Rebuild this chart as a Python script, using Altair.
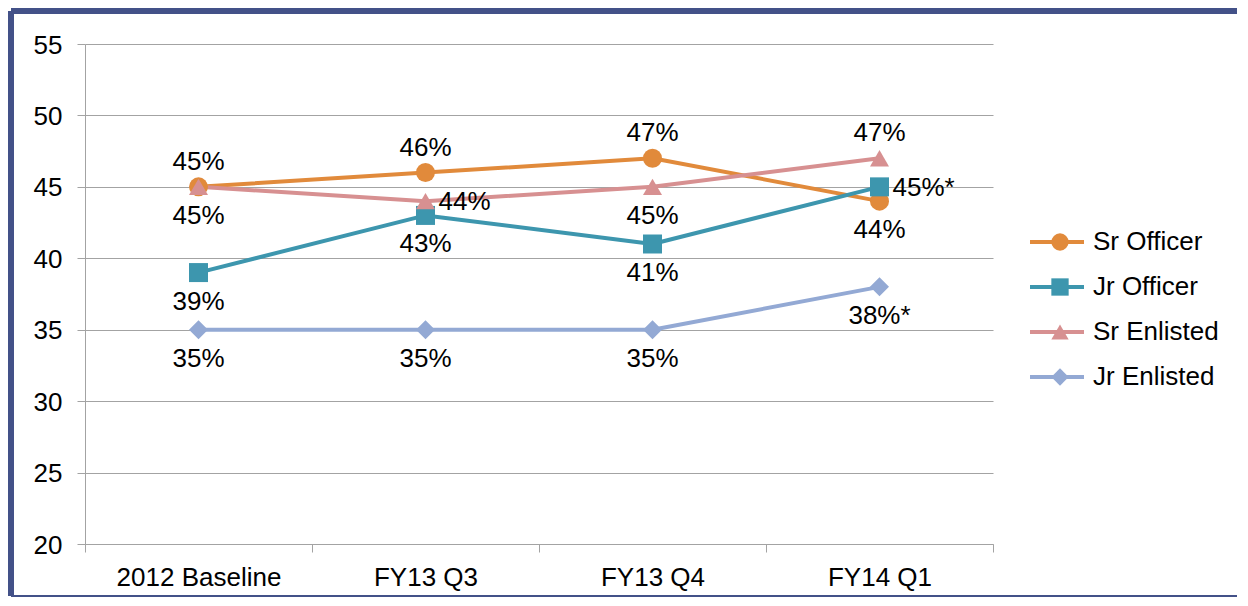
import altair as alt
import pandas as pd

# ---- data ----
categories = ["2012 Baseline", "FY13 Q3", "FY13 Q4", "FY14 Q1"]
series_names = ["Sr Officer", "Jr Officer", "Sr Enlisted", "Jr Enlisted"]
sr_officer = [45, 46, 47, 44]
jr_officer = [39, 43, 41, 45]
sr_enlisted = [45, 44, 45, 47]
jr_enlisted = [35, 35, 35, 38]
# asterisk flags on data labels
sr_officer_flag = ["", "", "", ""]
jr_officer_flag = ["", "", "", "*"]
sr_enlisted_flag = ["", "", "", ""]
jr_enlisted_flag = ["", "", "", "*"]
# data-label placement relative to each point
sr_officer_pos = ["above", "above", "above", "below"]
jr_officer_pos = ["below", "below", "below", "right"]
sr_enlisted_pos = ["below", "right", "below", "above"]
jr_enlisted_pos = ["below", "below", "below", "below"]

colors = ["#E18A3B", "#3D96AE", "#D79091", "#93A9D4"]
shapes = ["circle", "square", "triangle-up", "diamond"]

values = [sr_officer, jr_officer, sr_enlisted, jr_enlisted]
flags = [sr_officer_flag, jr_officer_flag, sr_enlisted_flag, jr_enlisted_flag]
poss = [sr_officer_pos, jr_officer_pos, sr_enlisted_pos, jr_enlisted_pos]

rows = []
for s, vals, fl, ps in zip(series_names, values, flags, poss):
    for c, v, f, p in zip(categories, vals, fl, ps):
        rows.append({"series": s, "series_m": s, "category": c, "value": v,
                     "label": f"{v}%{f}", "pos": p})
df = pd.DataFrame(rows)

FONT = "Arial, 'Liberation Sans', sans-serif"
GRID = "#A3A3A3"
FRAME = "#435188"
W, H = 908, 500

x_enc = alt.X(
    "category:N", sort=categories, bandPosition=0.5,
    scale=alt.Scale(type="band", paddingInner=0, paddingOuter=0),
    axis=alt.Axis(title=None, labelAngle=0, tickBand="extent", tickSize=8,
                  tickColor=GRID, domainColor=GRID, labelFont=FONT,
                  labelFontSize=26, labelColor="black", labelPadding=12,
                  grid=False),
)
y_enc = alt.Y(
    "value:Q",
    scale=alt.Scale(domain=[20, 55], nice=False, zero=False),
    axis=alt.Axis(title=None, values=list(range(20, 56, 5)), grid=True,
                  gridColor=GRID, tickColor=GRID, domainColor=GRID, tickSize=8,
                  labelFont=FONT, labelFontSize=26, labelColor="black",
                  labelPadding=15, labelOffset=1),
)

lines = alt.Chart(df).mark_line(strokeWidth=4, strokeCap="round", strokeJoin="round").encode(
    x=x_enc, y=y_enc,
    stroke=alt.Stroke(
        "series:N", sort=series_names,
        scale=alt.Scale(domain=series_names, range=colors),
        legend=alt.Legend(orient="none", legendX=959, legendY=185, title=None,
                          symbolType="M-2.7,0H2.7", symbolSize=400,
                          symbolStrokeWidth=4, padding=0, rowPadding=19,
                          labelFont=FONT, labelFontSize=26, labelExpr="''",
                          labelColor="rgba(0,0,0,0)"),
    ),
)

pt_legend = alt.Legend(orient="none", legendX=962, legendY=185, title=None,
                       symbolSize=300, symbolStrokeWidth=0, padding=0,
                       rowPadding=19, labelFont=FONT, labelFontSize=26,
                       labelColor="black", labelOffset=20)
points = alt.Chart(df).mark_point(filled=True, size=361, opacity=1).encode(
    x=x_enc, y=y_enc,
    fill=alt.Fill("series_m:N", sort=series_names,
                  scale=alt.Scale(domain=series_names, range=colors),
                  legend=pt_legend),
    shape=alt.Shape("series_m:N", sort=series_names,
                    scale=alt.Scale(domain=series_names, range=shapes),
                    legend=pt_legend),
)

def text_layer(pos, **kw):
    return alt.Chart(df).transform_filter(alt.datum.pos == pos).mark_text(
        font=FONT, fontSize=26, color="black", **kw
    ).encode(x=x_enc, y=y_enc, text="label:N")

above = text_layer("above", dy=-25)
below = text_layer("below", dy=29)
right = text_layer("right", dy=1, dx=13, align="left")

# decorative frame (page is 1248x606 with 8px margin: chart fits in 1232x590)
one = pd.DataFrame({"k": [0]})
frame_left = alt.Chart(one).mark_rule(color=FRAME, strokeWidth=6).encode(
    x=alt.value(-74), y=alt.value(-33), y2=alt.value(552))
frame_top = alt.Chart(one).mark_rule(color=FRAME, strokeWidth=6).encode(
    x=alt.value(-74), x2=alt.value(1152), y=alt.value(-33))
frame_bottom = alt.Chart(one).mark_rule(color=FRAME, strokeWidth=2).encode(
    x=alt.value(-74), x2=alt.value(1152), y=alt.value(552))

chart = alt.layer(
    frame_left, frame_top, frame_bottom, lines, points, above, below, right
).resolve_scale(
    stroke="independent", fill="independent", shape="independent"
).properties(
    width=W, height=H, padding=0, background="white"
).configure_view(stroke=None)

chart.save("out.html", embed_options={"renderer": "svg", "actions": False})
